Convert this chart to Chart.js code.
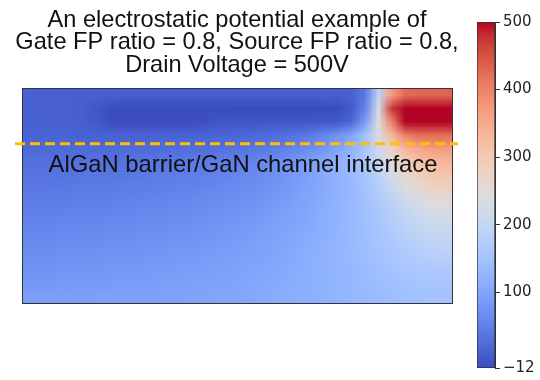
<!DOCTYPE html>
<html><head><meta charset="utf-8">
<script src="https://cdn.jsdelivr.net/npm/chart.js@4.4.0/dist/chart.umd.min.js"></script>
<style>
html,body{margin:0;padding:0;background:#fff;}
#wrap{position:relative;width:540px;height:380px;overflow:hidden;}
#main{position:absolute;left:0;top:0;width:540px;height:380px;}
#cbar{position:absolute;left:460px;top:0;width:80px;height:380px;}
</style></head><body>
<div id="wrap">
<canvas id="main" width="540" height="380"></canvas>
<canvas id="cbar" width="80" height="380"></canvas>
</div>
<script>
// ---- data ----
const titleLines = ['An electrostatic potential example of', 'Gate FP ratio = 0.8, Source FP ratio = 0.8,', 'Drain Voltage = 500V'];
const interfaceLabel = 'AlGaN barrier/GaN channel interface';
const interfaceDepth = 4.14;            // row units below top
const interfaceSpan = [-0.52, 32.45];   // column units
const cbMin = -12, cbMax = 500;
const cbTicks = [-12, 100, 200, 300, 400, 500];
// potential (V), 16 rows (top -> bottom) x 32 columns (left -> right)
const r00 = [12,11,10,10,10,10,10,9,9,9,9,9,9,9,9,9,9,9,9,9,9,9,9,10,12,40,190,370,425,430,430,430];
const r01 = [12,11,10,10,8,0,-12,-12,-12,-12,-12,-12,-12,-12,-12,-12,-12,-12,-12,-12,-12,-12,-12,-10,5,55,230,470,500,500,500,500];
const r02 = [13,12,12,11,9,2,-10,-10,-10,-10,-10,-10,-10,-8,-2,0,0,0,0,0,0,0,2,4,22,85,245,400,500,500,500,500];
const r03 = [15,15,15,15,14,13,13,13,13,13,13,13,13,14,17,18,20,22,25,30,36,45,58,75,100,150,235,330,400,420,420,420];
const r04 = [22,22,22,22,23,23,24,24,25,25,26,27,28,29,31,33,36,40,45,51,59,69,82,98,120,155,215,280,330,355,365,370];
const r05 = [30,30,31,31,32,33,34,35,36,38,39,41,43,45,48,51,55,60,66,73,82,93,106,120,138,163,200,245,285,310,325,330];
const r06 = [34,34,35,36,37,38,39,40,41,43,44,46,48,50,53,56,60,65,71,78,86,96,108,120,133,153,183,225,260,285,300,305];
const r07 = [40,40,41,42,43,44,45,46,48,49,51,53,55,57,60,63,67,71,76,83,90,99,109,120,132,148,173,203,235,258,272,278];
const r08 = [46,46,47,48,49,50,51,53,54,56,57,59,61,64,66,69,73,77,82,88,95,103,112,122,133,146,163,186,210,230,243,248];
const r09 = [52,52,53,54,55,56,57,59,60,62,63,65,67,70,72,75,79,83,87,93,99,106,114,123,133,144,158,176,194,210,222,226];
const r10 = [58,58,59,60,61,62,63,65,66,68,69,71,73,75,78,81,84,88,92,97,103,109,116,124,133,143,155,169,184,197,205,208];
const r11 = [64,64,65,66,67,68,69,70,72,73,75,76,78,80,83,86,89,92,96,101,106,112,118,125,133,142,152,163,175,185,191,194];
const r12 = [70,70,71,72,73,74,75,76,77,79,80,82,84,86,88,90,93,96,100,104,109,114,120,126,133,140,148,157,166,173,178,180];
const r13 = [76,76,77,78,79,80,81,82,83,84,85,87,88,90,92,94,97,100,103,107,111,116,121,126,131,137,144,150,157,162,165,167];
const r14 = [83,83,83,84,85,85,86,87,88,89,90,91,93,94,96,98,100,103,106,109,113,117,121,125,130,135,140,145,150,154,156,157];
const r15 = [90,90,90,91,91,92,92,93,94,95,96,97,98,99,101,102,104,106,109,112,115,118,122,125,129,133,137,141,145,148,149,150];
const grid = [r00,r01,r02,r03,r04,r05,r06,r07,r08,r09,r10,r11,r12,r13,r14,r15];

// ---- colormap (coolwarm) ----
const coolwarm = [[59,76,192],[68,90,204],[77,104,215],[87,117,225],[98,130,234],[108,142,241],[119,154,247],[130,165,251],[141,176,254],[152,185,255],[163,194,255],[174,201,253],[184,208,249],[194,213,244],[204,217,238],[213,219,230],[221,221,221],[229,216,209],[236,211,197],[241,204,185],[245,196,173],[247,187,160],[247,177,148],[247,166,135],[244,154,123],[241,141,111],[236,127,99],[229,112,88],[222,96,77],[213,80,66],[203,62,56],[192,40,47],[180,4,38]];
function cmap(t){
  t = Math.max(0, Math.min(1, t));
  const f = t*(coolwarm.length-1), i = Math.min(coolwarm.length-2, Math.floor(f)), u = f-i;
  const a = coolwarm[i], b = coolwarm[i+1];
  return [0,1,2].map(k => Math.round(a[k] + (b[k]-a[k])*u));
}

const FONT = "'Liberation Sans', Arial, Helvetica, sans-serif";

const heatmapPlugin = {
  id: 'heatmap',
  beforeDatasetsDraw(chart){
    const {ctx, scales:{x, y}} = chart;
    const nR = grid.length, nC = grid[0].length;
    const off = document.createElement('canvas');
    off.width = nC; off.height = nR;
    const octx = off.getContext('2d');
    const img = octx.createImageData(nC, nR);
    for (let r=0;r<nR;r++) for (let c=0;c<nC;c++){
      const col = cmap((grid[r][c]-cbMin)/(cbMax-cbMin));
      const k = (r*nC+c)*4;
      img.data[k]=col[0]; img.data[k+1]=col[1]; img.data[k+2]=col[2]; img.data[k+3]=255;
    }
    octx.putImageData(img,0,0);
    const x0 = x.getPixelForValue(0), x1 = x.getPixelForValue(nC);
    const y0 = y.getPixelForValue(0), y1 = y.getPixelForValue(nR);
    ctx.save();
    ctx.imageSmoothingEnabled = true;
    ctx.imageSmoothingQuality = 'low';
    ctx.drawImage(off, x0, Math.min(y0,y1), x1-x0, Math.abs(y1-y0));
    ctx.strokeStyle = '#333';
    ctx.lineWidth = 1;
    ctx.strokeRect(Math.round(x0)+0.5, Math.round(Math.min(y0,y1))+0.5, Math.round(x1-x0), Math.round(Math.abs(y1-y0)));
    ctx.restore();
  },
  afterDatasetsDraw(chart){
    const {ctx, chartArea, scales:{x, y}} = chart;
    ctx.save();
    ctx.fillStyle = '#111';
    ctx.font = '23.8px ' + FONT;
    ctx.textBaseline = 'alphabetic';
    ctx.textAlign = 'left';
    ctx.fillText(interfaceLabel, x.getPixelForValue(1.98), y.getPixelForValue(6.25));
    // title, centred over the plot area
    ctx.font = '23.6px ' + FONT;
    ctx.textAlign = 'center';
    ctx.textBaseline = 'middle';
    const cx = (chartArea.left + chartArea.right) / 2;
    titleLines.forEach((t, i) => ctx.fillText(t, cx, 20 + i * 22.8));
    ctx.restore();
  }
};

new Chart(document.getElementById('main'), {
  type: 'line',
  data: {
    datasets: [{
      data: interfaceSpan.map(v => ({x: v, y: interfaceDepth})),
      borderColor: '#FFC000',
      borderWidth: 3,
      borderDash: [10, 5],
      pointRadius: 0,
      fill: false,
      clip: false
    }]
  },
  options: {
    responsive: false,
    animation: false,
    layout: {padding: {left: 22, right: 88, top: 88, bottom: 77}},
    plugins: {
      legend: {display: false},
      tooltip: {enabled: false},
      title: {display: false}
    },
    scales: {
      x: {type: 'linear', min: 0, max: 32, display: false},
      y: {type: 'linear', min: 0, max: 16, reverse: true, display: false}
    }
  },
  plugins: [heatmapPlugin]
});

new Chart(document.getElementById('cbar'), {
  type: 'bar',
  data: {
    labels: [''],
    datasets: [{
      data: [[cbMin, cbMax]],
      backgroundColor(c){
        const ch = c.chart;
        if (!ch.chartArea || !ch.scales.y) return '#ccc';
        const ys = ch.scales.y;
        const g = ch.ctx.createLinearGradient(0, ys.getPixelForValue(cbMin), 0, ys.getPixelForValue(cbMax));
        coolwarm.forEach((col, i) => g.addColorStop(i/(coolwarm.length-1), 'rgb(' + col.join(',') + ')'));
        return g;
      },
      borderColor: '#333',
      borderWidth: 1,
      borderSkipped: false,
      barPercentage: 1,
      categoryPercentage: 1
    }]
  },
  options: {
    responsive: false,
    animation: false,
    layout: {padding: {left: 17, top: 22, bottom: 9, right: 0}},
    plugins: {legend: {display: false}, tooltip: {enabled: false}},
    scales: {
      x: {display: false},
      y: {
        position: 'right',
        min: cbMin, max: cbMax,
        afterBuildTicks(s){ s.ticks = cbTicks.map(v => ({value: v})); },
        afterFit(s){ s.width = 45; },
        ticks: {
          font: {family: "'DejaVu Sans', sans-serif", size: 15},
          color: '#222',
          padding: 3,
          callback: v => v < 0 ? '\u2212' + Math.abs(v) : String(v)
        },
        grid: {drawOnChartArea: false, tickLength: 5, color: '#333', lineWidth: 1},
        border: {display: true, color: '#333'}
      }
    }
  }
});
</script>
</body></html>
